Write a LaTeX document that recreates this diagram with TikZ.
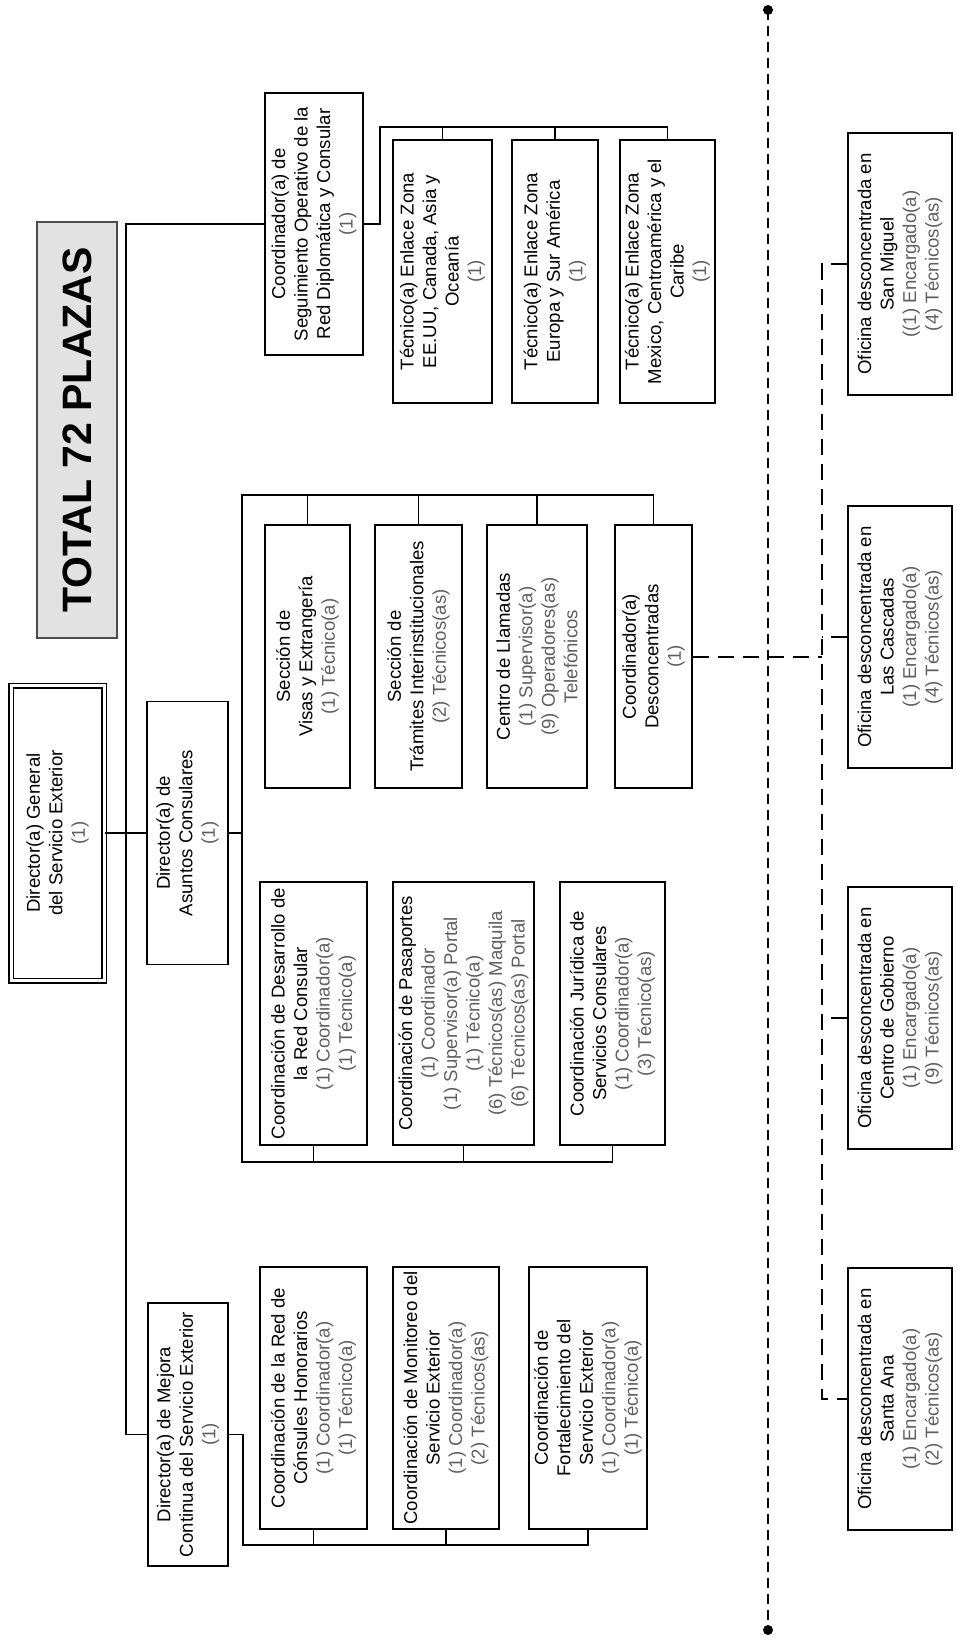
\documentclass[tikz,border=0pt]{standalone}
\usepackage{fontspec}
\setmainfont{Liberation Sans}
\usepackage{xcolor}
\definecolor{mygray}{RGB}{226,226,226}
\definecolor{mycount}{RGB}{95,95,95}
\newcommand{\plz}[1]{\textcolor{mycount}{#1}}
\newcommand{\boxfont}{\fontsize{18.6}{22.5}\selectfont}
\tikzset{
  box/.style={rectangle, draw=black, line width=1.8pt, fill=white, align=center, inner sep=1pt, font=\boxfont, rotate=90, minimum width=263pt},
  link/.style={line width=1.8pt, color=black},
  dlink/.style={line width=2pt, color=black, dash pattern=on 16pt off 9pt},
  sepline/.style={line width=2pt, color=black, dash pattern=on 10pt off 6pt}
}

\begin{document}
\begin{tikzpicture}[x=1pt, y=-1pt]
  \useasboundingbox (0,0) rectangle (957,1648);

  % Title and top level
  \node[box, draw=black!70, fill=mygray, line width=2.4pt, minimum width=416pt, minimum height=80pt, font=\fontsize{41}{46}\selectfont\bfseries] (total) at (77,430) {TOTAL 72 PLAZAS};
  \node[box, double, double distance=3pt, line width=1.5pt, minimum width=295pt, minimum height=93pt] (dg) at (57.5,833) {Director(a) General\\del Servicio Exterior\\\plz{(1)}};
  \node[box, minimum height=81pt] (asu) at (187.5,833) {Director(a) de\\Asuntos Consulares\\\plz{(1)}};
  \node[box, minimum height=80pt] (mej) at (188,1434.5) {Director(a) de Mejora\\Continua del Servicio Exterior\\\plz{(1)}};
  \node[box, minimum width=262pt, minimum height=98pt] (seg) at (314,224) {Coordinador(a) de\\Seguimiento Operativo de la\\Red Diplomática y Consular\\\plz{(1)}};

  % Seguimiento
  \node[box, minimum height=99pt] (eeuu) at (442.5,271.5) {Técnico(a) Enlace Zona\\EE.UU, Canada, Asia y\\Oceanía\\\plz{(1)}};
  \node[box, minimum height=86pt] (euro) at (555,271.5) {Técnico(a) Enlace Zona\\Europa y Sur América\\\plz{(1)}};
  \node[box, minimum height=95pt] (mexi) at (667.5,271.5) {Técnico(a) Enlace Zona\\Mexico, Centroamérica y el\\Caribe\\\plz{(1)}};

  % Asuntos Consulares (upper row)
  \node[box, minimum height=85pt] (visas) at (307.5,656.5) {Sección de\\Visas y Extrangería\\\plz{(1) Técnico(a)}};
  \node[box, minimum height=87pt] (tram) at (418.5,656.5) {Sección de\\Trámites Interinstitucionales\\\plz{(2) Técnicos(as)}};
  \node[box, minimum height=100pt] (llam) at (537,656.5) {Centro de Llamadas\\\plz{(1) Supervisor(a)}\\\plz{(9) Operadores(as)}\\\plz{Telefónicos}};
  \node[box, minimum height=77pt] (desc) at (653.5,656.5) {Coordinador(a)\\Desconcentradas\\\plz{(1)}};

  % Asuntos Consulares (lower row)
  \node[box, minimum height=107pt] (desa) at (313.5,1013.5) {Coordinación de Desarrollo de\\la Red Consular\\\plz{(1) Coordinador(a)}\\\plz{(1) Técnico(a)}};
  \node[box, minimum height=141pt] (pasa) at (463.5,1013.5) {Coordinación de Pasaportes\\\plz{(1) Coordinador}\\\plz{(1) Supervisor(a) Portal}\\\plz{(1) Técnico(a)}\\\plz{(6) Técnicos(as) Maquila}\\\plz{(6) Técnicos(as) Portal}};
  \node[box, minimum height=105pt] (jur) at (612.5,1013.5) {Coordinación Jurídica de\\Servicios Consulares\\\plz{(1) Coordinador(a)}\\\plz{(3) Técnico(as)}};

  % Mejora Continua
  \node[box, minimum width=262pt, minimum height=107pt] (red) at (313.5,1398) {Coordinación de la Red de\\Cónsules Honorarios\\\plz{(1) Coordinador(a)}\\\plz{(1) Técnico(a)}};
  \node[box, minimum width=262pt, minimum height=106pt] (moni) at (446,1398) {Coordinación de Monitoreo del\\Servicio Exterior\\\plz{(1) Coordinador(a)}\\\plz{(2) Técnicos(as)}};
  \node[box, minimum width=262pt, minimum height=118pt] (fort) at (588,1398) {Coordinación de\\Fortalecimiento del\\Servicio Exterior\\\plz{(1) Coordinador(a)}\\\plz{(1) Técnico(a)}};

  % Oficinas desconcentradas
  \node[box, minimum width=262pt, minimum height=104pt] (smig) at (900,264) {Oficina desconcentrada en\\San Miguel\\\plz{((1) Encargado(a)}\\\plz{(4) Técnicos(as)}};
  \node[box, minimum width=262pt, minimum height=104pt] (casc) at (900,637) {Oficina desconcentrada en\\Las Cascadas\\\plz{(1) Encargado(a)}\\\plz{(4) Técnicos(as)}};
  \node[box, minimum width=262pt, minimum height=104pt] (gob) at (900,1018) {Oficina desconcentrada en\\Centro de Gobierno\\\plz{(1) Encargado(a)}\\\plz{(9) Técnicos(as)}};
  \node[box, minimum width=262pt, minimum height=104pt] (sana) at (900,1399) {Oficina desconcentrada en\\Santa Ana\\\plz{(1) Encargado(a)}\\\plz{(2) Técnicos(as)}};

  % bus points
  \coordinate (segTop) at (380,127);
  \coordinate (asuTop) at (242,495);
  \coordinate (asuBot) at (242,1162);
  \coordinate (mejBot) at (243,1545);
  \coordinate (ofiTop) at (822,264);
  \coordinate (ofiBot) at (822,1399);
  \coordinate (sepTop) at (768,10);
  \coordinate (sepBot) at (768,1630);

  % Connectors
  \draw[link] (seg.north) -- ++(-138,0) |- (mej.north);
  \draw[link] (dg.south) -- (asu.north);
  \draw[link] (seg.south) -| (segTop) -| (mexi.east);
  \foreach \n in {eeuu,euro}
    \draw[link] (\n.east) -- (\n.east |- segTop);
  \draw[link] (asu.south) -- (asu.south -| asuTop);
  \draw[link] (desc.east) |- (asuTop) -- (asuBot) -| (jur.west);
  \foreach \n in {visas,tram,llam}
    \draw[link] (\n.east) -- (\n.east |- asuTop);
  \foreach \n in {desa,pasa}
    \draw[link] (\n.west) -- (\n.west |- asuBot);
  \draw[link] (mej.south) -| (mejBot) -| (fort.west);
  \foreach \n in {red,moni}
    \draw[link] (\n.west) -- (\n.west |- mejBot);

  % dashed links
  \draw[sepline] (sepTop) -- (sepBot);
  \fill (sepTop) circle (5pt);
  \fill (sepBot) circle (5pt);
  \draw[dlink] (desc.south) -- (desc.south -| ofiTop);
  \draw[dlink] (smig.north) -- (ofiTop) -- (ofiBot) -- (sana.north);
  \foreach \n in {casc,gob}
    \draw[dlink] (\n.north) -- (\n.north -| ofiTop);
\end{tikzpicture}
\end{document}
